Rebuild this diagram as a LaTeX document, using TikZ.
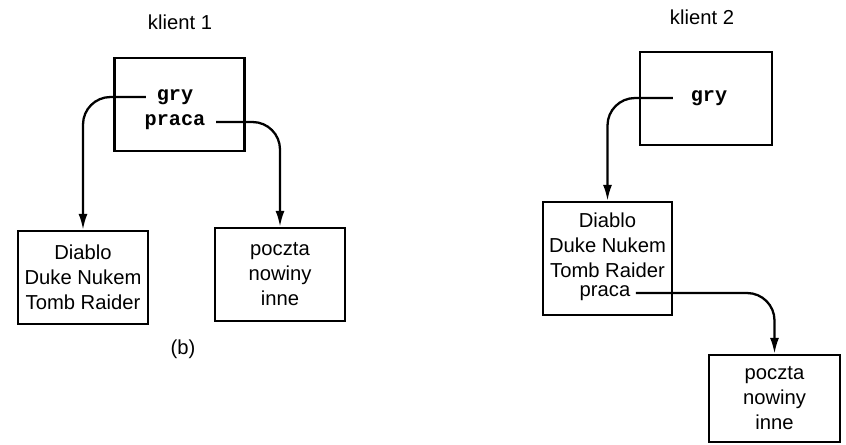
\documentclass[tikz,border=0pt]{standalone}
\usepackage{fontspec}
\setmainfont{Liberation Sans}
\setmonofont{Liberation Mono}
\usetikzlibrary{arrows.meta}

\begin{document}
\begin{tikzpicture}[font=\fontsize{11.5}{14.2}\selectfont,box/.style={draw,line width=1.3pt,minimum width=2.6cm,minimum height=1.86cm,align=center,inner sep=0pt},code/.style={font=\fontsize{11.5}{14.2}\selectfont\ttfamily\bfseries,inner xsep=6pt,inner ysep=1pt},arr/.style={-{Latex[length=3.2mm,width=1.8mm]},line width=1.3pt,rounded corners=5.5mm}]
\useasboundingbox (0,0) rectangle (16.92,-8.88);
% klient 1
\node (k1) at (3.6,-0.44) {klient 1};
\node[box] (top1) at (3.59,-2.09) {};
\node[code] (gry1) at (3.5,-1.94) {gry};
\node[code] (pr1) at (3.5,-2.44) {praca};
\node[box] (dl1) at (1.66,-5.55) {Diablo\\Duke Nukem\\Tomb Raider};
\node[box] (pp1) at (5.6,-5.49) {poczta\\nowiny\\inne};
\draw[arr] (gry1.west) -| (dl1.north);
\draw[arr] (pr1.east) -| (pp1.north);
\node (lbl) at (3.66,-6.98) {(b)};
% klient 2
\node (k2) at (14.04,-0.34) {klient 2};
\node[box,minimum width=2.64cm] (top2) at (14.12,-1.97) {};
\node[code,inner xsep=10pt] (gry2) at (14.18,-1.96) {gry};
\node[box,minimum width=2.58cm,minimum height=2.26cm] (dl2) at (12.15,-5.17) {};
\node[align=center] (lst2) at (12.15,-4.91) {Diablo\\Duke Nukem\\Tomb Raider};
\node[inner xsep=3pt] (pr2) at (12.1,-5.86) {praca};
\node[box,minimum width=2.62cm,minimum height=1.74cm] (pp2) at (15.49,-7.97) {poczta\\nowiny\\inne};
\draw[arr] (gry2.west) -| (dl2.north);
\draw[arr] (pr2.east) -| (pp2.north);
\end{tikzpicture}
\end{document}
